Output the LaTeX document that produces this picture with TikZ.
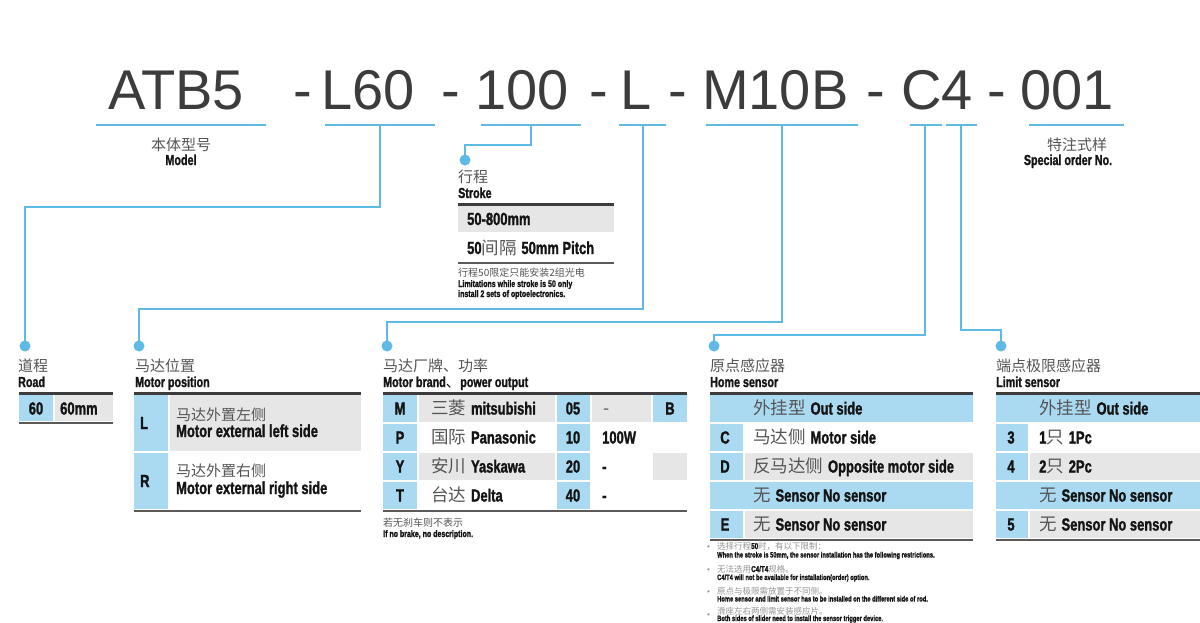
\documentclass[tikz,border=0pt]{standalone}
\usepackage{fontspec}
\setmainfont{Liberation Sans}
\newfontfamily\cnfont{Noto Sans CJK SC}
\newfontfamily\condfont[FakeStretch=0.74,FakeBold=1.4]{Liberation Sans}
\definecolor{lineblue}{RGB}{94,186,228}
\definecolor{cb}{RGB}{170,218,241}
\definecolor{cg}{RGB}{230,230,230}
\definecolor{ruletop}{RGB}{60,60,60}
\definecolor{rulebot}{RGB}{90,90,90}
\definecolor{topgray}{RGB}{60,60,60}
\definecolor{zhgray}{RGB}{85,85,85}
\definecolor{faint}{RGB}{150,150,150}
\definecolor{entext}{RGB}{20,20,20}
\newcommand\zhx[1]{{\cnfont\color{zhgray}#1}}
\newcommand\enx[1]{{\condfont\bfseries\color{entext}#1}}
\newcommand\fsz[1]{\fontsize{#1}{#1}\selectfont}
\newcommand\cellx[5]{\fill[#1] (#2,#3) rectangle (#4,#5);}
\tikzset{
  conn/.style={draw=lineblue, line width=2.4pt},
  uline/.style={draw=lineblue, line width=2.4pt},
  dot/.style={circle, fill=lineblue, inner sep=0pt, minimum size=11pt},
  toprule/.style={draw=ruletop, line width=3pt},
  botrule/.style={draw=rulebot, line width=2pt},
  tt/.style={inner sep=0pt, anchor=base west, font=\fsz{56}, text=topgray},
  tw/.style={inner sep=0pt, anchor=base west},
  tc/.style={inner sep=0pt, anchor=base},
  lz/.style={tw, font=\fsz{15}},
  le/.style={tw, font=\fsz{14.5}},
  rt/.style={tw, font=\fsz{17.5}},
  rc/.style={tc, font=\fsz{17.5}},
}
\begin{document}
\begin{tikzpicture}[x=1pt,y=-1pt]
\useasboundingbox (0,0) rectangle (1200,622);
\fill[white] (0,0) rectangle (1200,622);

% ---------- model code ----------
\node[tt] (tA) at (108,109) {ATB5};
\node[tt] (tD1) at (293.5,109) {-};
\node[tt] (tB) at (321,109) {L60};
\node[tt] (tD2) at (441.5,109) {-};
\node[tt] (tC) at (475,109) {100};
\node[tt] (tD3) at (589.5,109) {-};
\node[tt] (tE) at (620,109) {L};
\node[tt] (tD4) at (668.5,109) {-};
\node[tt] (tF) at (702,109) {M10B};
\node[tt] (tD5) at (866.5,109) {-};
\node[tt] (tG) at (901,109) {C4};
\node[tt] (tD6) at (987.5,109) {-};
\node[tt] (tH) at (1020.5,109) {001};

% underlines
\draw[uline] (96,125) -- (266,125);
\draw[uline] (325,125) -- (435,125);
\draw[uline] (481,125) -- (581,125);
\draw[uline] (619,125) -- (666,125);
\draw[uline] (706,125) -- (858,125);
\draw[uline] (910,125) -- (942,125);
\draw[uline] (946,125) -- (977,125);
\draw[uline] (1029,125) -- (1124,125);

\coordinate (uB) at (380,125);
\coordinate (uC) at (531,125);
\coordinate (uE) at (643,125);
\coordinate (uF) at (782,125);
\coordinate (uG1) at (925,125);
\coordinate (uG2) at (961,125);
\coordinate (kB) at (380,207);
\coordinate (kC) at (531,145);
\coordinate (kE) at (643,309);
\coordinate (kF) at (782,322);
\coordinate (kG1) at (925,335);
\coordinate (kG2) at (961,330);
\coordinate (pStroke) at (465,160);
\coordinate (pRoad) at (25,346);
\coordinate (pPos) at (139,346);
\coordinate (pBrand) at (387,346);
\coordinate (pHome) at (714,346);
\coordinate (pLimit) at (1001,346);

% labels under code
\node[tc,font=\fsz{15}] (mZ) at (181,150) {\zhx{本体型号}};
\node[tc,font=\fsz{14.5}] (mE) at (181,165) {\enx{Model}};
\node[tc,font=\fsz{15}] (sZ) at (1077,150) {\zhx{特注式样}};
\node[tc,font=\fsz{14.5}] (sE) at (1068,165) {\enx{Special order No.}};

% connectors
\draw[conn] (uB) -- (kB) -| (pRoad);
\draw[conn] (uC) -- (kC) -| (pStroke);
\draw[conn] (uE) -- (kE) -| (pPos);
\draw[conn] (uF) -- (kF) -| (pBrand);
\draw[conn] (uG1) -- (kG1) -| (pHome);
\draw[conn] (uG2) -- (kG2) -| (pLimit);
\node[dot] (dStroke) at (pStroke) {};
\node[dot] (dRoad) at (pRoad) {};
\node[dot] (dPos) at (pPos) {};
\node[dot] (dBrand) at (pBrand) {};
\node[dot] (dHome) at (pHome) {};
\node[dot] (dLimit) at (pLimit) {};

% ---------- stroke ----------
\node[lz] (stZ) at (458,182) {\zhx{行程}};
\node[le] (stE) at (458,198) {\enx{Stroke}};
\cellx{cg}{458}{206}{614}{232}
\draw[toprule] (458,204) -- (614,204);
\draw[botrule] (458,263) -- (614,263);
\node[rt] (st1) at (467,225) {\enx{50-800mm}};
\node[rt] (st2) at (467,254) {\enx{50}\zhx{间隔} \enx{50mm Pitch}};
\node[tw,font=\fsz{10}] (stn1) at (458,276) {\zhx{行程50限定只能安装2组光电}};
\node[tw,font=\fsz{9.5}] (stn2) at (458,287) {\enx{Limitations while stroke is 50 only}};
\node[tw,font=\fsz{9.5}] (stn3) at (458,297) {\enx{install 2 sets of optoelectronics.}};

% ---------- road ----------
\node[lz] (rdZ) at (18,371) {\zhx{道程}};
\node[le] (rdE) at (18,387) {\enx{Road}};
\cellx{cb}{19}{395}{53}{421}
\cellx{cg}{55}{395}{113}{421}
\draw[toprule] (19,393) -- (113,393);
\draw[botrule] (19,423) -- (113,423);
\node[rc] (rd1) at (36,414.5) {\enx{60}};
\node[rt] (rd2) at (60,414.5) {\enx{60mm}};

% ---------- motor position ----------
\node[lz] (mpZ) at (135,371) {\zhx{马达位置}};
\node[le] (mpE) at (135,387) {\enx{Motor position}};
\cellx{cb}{134}{395}{168}{451}
\cellx{cg}{170}{395}{361}{451}
\cellx{cb}{134}{453}{168}{509}
\draw[toprule] (134,393) -- (361,393);
\draw[botrule] (134,511) -- (361,511);
\node[rt] (mpL) at (140,429) {\enx{L}};
\node[lz] (mpL1) at (176,420) {\zhx{马达外置左侧}};
\node[rt] (mpL2) at (176,437) {\enx{Motor external left side}};
\node[rt] (mpR) at (140,487) {\enx{R}};
\node[lz] (mpR1) at (176,476) {\zhx{马达外置右侧}};
\node[rt] (mpR2) at (176,494) {\enx{Motor external right side}};

% ---------- motor brand ----------
\node[lz] (mbZ) at (383,371) {\zhx{马达厂牌、功率}};
\node[le] (mbE) at (383,387) {\enx{Motor brand}{\cnfont\color{entext}、}\enx{ power output}};
% row M
\cellx{cb}{383}{395}{417}{422}
\cellx{cg}{419}{395}{555}{422}
\cellx{cb}{557}{395}{590}{422}
\cellx{cg}{592}{395}{651}{422}
\cellx{cb}{653}{395}{687}{422}
% row P
\cellx{cb}{383}{424}{417}{451}
\cellx{cb}{557}{424}{590}{451}
% row Y
\cellx{cb}{383}{453}{417}{480}
\cellx{cg}{419}{453}{555}{480}
\cellx{cb}{557}{453}{590}{480}
\cellx{cg}{653}{453}{687}{480}
% row T
\cellx{cb}{383}{482}{417}{509}
\cellx{cb}{557}{482}{590}{509}
\draw[toprule] (383,393) -- (687,393);
\draw[botrule] (383,511) -- (687,511);
\node[rc] (mbM) at (400,414.5) {\enx{M}};
\node[rt] (mbM1) at (431,414.5) {\zhx{三菱} \enx{mitsubishi}};
\node[rc] (mbM2) at (573,414.5) {\enx{05}};
\node[rt] (mbM3) at (603,414.5) {\zhx{-}};
\node[rc] (mbM4) at (670,414.5) {\enx{B}};
\node[rc] (mbP) at (400,443.5) {\enx{P}};
\node[rt] (mbP1) at (431,443.5) {\zhx{国际} \enx{Panasonic}};
\node[rc] (mbP2) at (573,443.5) {\enx{10}};
\node[rt] (mbP3) at (602,443.5) {\enx{100W}};
\node[rc] (mbY) at (400,472.5) {\enx{Y}};
\node[rt] (mbY1) at (431,472.5) {\zhx{安川} \enx{Yaskawa}};
\node[rc] (mbY2) at (573,472.5) {\enx{20}};
\node[rt] (mbY3) at (602,472.5) {\enx{-}};
\node[rc] (mbT) at (400,501.5) {\enx{T}};
\node[rt] (mbT1) at (431,501.5) {\zhx{台达} \enx{Delta}};
\node[rc] (mbT2) at (573,501.5) {\enx{40}};
\node[rt] (mbT3) at (602,501.5) {\enx{-}};
\node[tw,font=\fsz{10}] (mbn1) at (383,526) {\zhx{若无刹车则不表示}};
\node[tw,font=\fsz{9.5}] (mbn2) at (383,537) {\enx{If no brake, no description.}};

% ---------- home sensor ----------
\node[lz] (hsZ) at (710,371) {\zhx{原点感应器}};
\node[le] (hsE) at (710,387) {\enx{Home sensor}};
\cellx{cb}{710}{395}{973}{422}
\cellx{cb}{710}{424}{743}{451}
\cellx{cb}{710}{453}{743}{480}
\cellx{cg}{745}{453}{973}{480}
\cellx{cb}{710}{482}{973}{509}
\cellx{cb}{710}{511}{743}{538}
\cellx{cg}{745}{511}{973}{538}
\draw[toprule] (710,393) -- (973,393);
\draw[botrule] (710,540) -- (973,540);
\node[rt] (hs1) at (753,414.5) {\zhx{外挂型} \enx{Out side}};
\node[rc] (hsC) at (725,443.5) {\enx{C}};
\node[rt] (hs2) at (753,443.5) {\zhx{马达侧} \enx{Motor side}};
\node[rc] (hsD) at (725,472.5) {\enx{D}};
\node[rt] (hs3) at (753,472.5) {\zhx{反马达侧} \enx{Opposite motor side}};
\node[rt] (hs4) at (753,501.5) {\zhx{无} \enx{Sensor No sensor}};
\node[rc] (hsE5) at (725,530.5) {\enx{E}};
\node[rt] (hs5) at (753,530.5) {\zhx{无} \enx{Sensor No sensor}};

% ---------- limit sensor ----------
\node[lz] (lsZ) at (996,371) {\zhx{端点极限感应器}};
\node[le] (lsE) at (996,387) {\enx{Limit sensor}};
\cellx{cb}{996}{395}{1200}{422}
\cellx{cb}{996}{424}{1028}{451}
\cellx{cb}{996}{453}{1028}{480}
\cellx{cg}{1030}{453}{1200}{480}
\cellx{cb}{996}{482}{1200}{509}
\cellx{cb}{996}{511}{1028}{538}
\cellx{cg}{1030}{511}{1200}{538}
\draw[toprule] (996,393) -- (1200,393);
\draw[botrule] (996,540) -- (1200,540);
\node[rt] (ls1) at (1039,414.5) {\zhx{外挂型} \enx{Out side}};
\node[rc] (ls3) at (1011,443.5) {\enx{3}};
\node[rt] (ls2) at (1039,443.5) {\enx{1}\zhx{只} \enx{1Pc}};
\node[rc] (ls4) at (1011,472.5) {\enx{4}};
\node[rt] (ls3t) at (1039,472.5) {\enx{2}\zhx{只} \enx{2Pc}};
\node[rt] (ls4t) at (1039,501.5) {\zhx{无} \enx{Sensor No sensor}};
\node[rc] (ls5) at (1011,530.5) {\enx{5}};
\node[rt] (ls5t) at (1039,530.5) {\zhx{无} \enx{Sensor No sensor}};

% ---------- footnotes ----------
\foreach \yy/\nm in {549/b1,572/b2,594/b3,617/b4}
  \node[tw,font=\fsz{8},text=faint] (\nm) at (707,\yy) {•};
\node[tw,font=\fsz{8.5}] (fn1) at (717,549) {{\cnfont\color{faint}选择行程}\enx{50}{\cnfont\color{faint}时，有以下限制：}};
\node[tw,font=\fsz{7.8}] (fn2) at (717,557.5) {\enx{When the stroke is 50mm, the sensor installation has the following restrictions.}};
\node[tw,font=\fsz{8.5}] (fn3) at (717,572) {{\cnfont\color{faint}无法选用}\enx{C4/T4}{\cnfont\color{faint}规格。}};
\node[tw,font=\fsz{7.8}] (fn4) at (717,580) {\enx{C4/T4 will not be available for installation(order) option.}};
\node[tw,font=\fsz{8.5}] (fn5) at (717,594) {{\cnfont\color{faint}原点与极限需放置于不同侧。}};
\node[tw,font=\fsz{7.8}] (fn6) at (717,601.5) {\enx{Home sensor and limit sensor has to be installed on the different side of rod.}};
\node[tw,font=\fsz{8.5}] (fn7) at (717,614) {{\cnfont\color{faint}滑座左右两侧需安装感应片。}};
\node[tw,font=\fsz{7.8}] (fn8) at (717,621) {\enx{Both sides of slider need to install the sensor trigger device.}};
\end{tikzpicture}
\end{document}
